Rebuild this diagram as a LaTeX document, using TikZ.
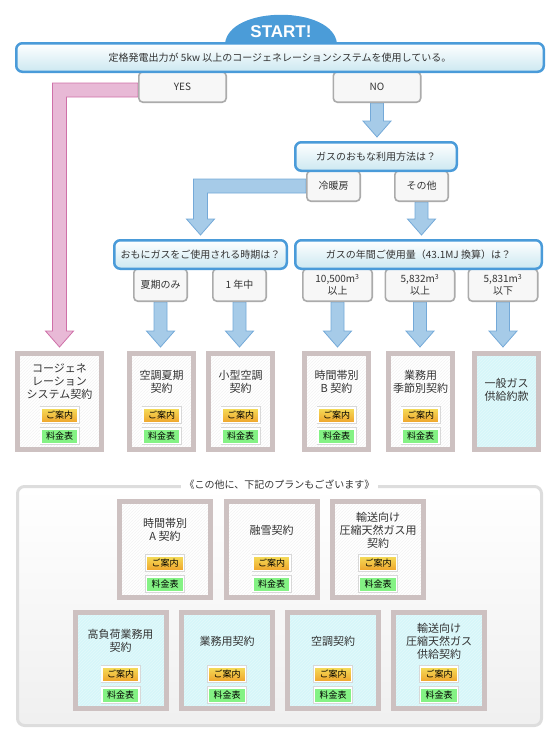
\documentclass[tikz,border=0pt]{standalone}
\usepackage{fontspec}
\setmainfont{Noto Sans CJK JP}
\newfontfamily\startfont{Liberation Sans}
\usepackage{tikz}
\usetikzlibrary{calc,positioning,patterns,backgrounds}
\definecolor{qblue}{HTML}{4A9BD9}
\definecolor{qcyan}{HTML}{CCE8F1}
\definecolor{domeblue}{HTML}{4B9CD8}
\definecolor{txtgray}{HTML}{333333}
\definecolor{tabgray}{HTML}{ABABAB}
\definecolor{tabfill}{HTML}{F7F7F7}
\definecolor{arblue}{HTML}{A6CBE8}
\definecolor{arblueln}{HTML}{74A9D8}
\definecolor{arpink}{HTML}{E8B9D6}
\definecolor{arpinkln}{HTML}{CF70A8}
\definecolor{planbd}{HTML}{CDC1C1}
\definecolor{plancyan}{HTML}{D6F6F9}
\definecolor{hatchgray}{HTML}{F3F3F3}
\definecolor{hatchcyan}{HTML}{E4F9FB}
\definecolor{panelbd}{HTML}{DDDDDD}
\definecolor{gdtop}{HTML}{F5DE5A}
\definecolor{gdbot}{HTML}{EFA52C}
\definecolor{prgreen}{HTML}{84F284}
\definecolor{btnbd}{HTML}{D8D8D8}
\newcommand{\dnarr}[3]{%
  \draw[#1] let \p1=(#2), \p2=(#3) in
    (\x1-6.5pt,\y1) -- (\x1+6.5pt,\y1) -- (\x1+6.5pt,\y2+20pt) -- (\x1+14pt,\y2+20pt)
    -- (\x1,\y2+4pt) -- (\x1-14pt,\y2+20pt) -- (\x1-6.5pt,\y2+20pt) -- cycle;}
\newcommand{\lfarr}[3]{%
  \draw[#1] let \p1=(#2), \p2=(#3) in
    (\x1,\y1+7pt) -- (\x2-7pt,\y1+7pt) -- (\x2-7pt,\y2+20pt) -- (\x2-14pt,\y2+20pt)
    -- (\x2,\y2+4pt) -- (\x2+14pt,\y2+20pt) -- (\x2+7pt,\y2+20pt) -- (\x2+7pt,\y1-7pt)
    -- (\x1,\y1-7pt) -- cycle;}
\newcommand{\planbox}[5]{%
  \node[#3, minimum width=#4] (#1) at (#2) {};
  \node[plantxt] (#1-t) at ($(#1.north)+(0,31)$) {#5};
  \node[gdsty] (#1-a) at ($(#1.south)+(0,-37)$) {ご案内};
  \node[prsty] (#1-b) at ($(#1.south)+(0,-16)$) {料金表};
}
\tikzset{
    startsty/.style={text=white, font=\startfont\bfseries\fontsize{17}{17}\selectfont, anchor=base, inner sep=0pt},
    qsty/.style={draw=qblue, line width=2.5pt, rounded corners=6pt, top color=white, bottom color=qcyan, minimum height=28.5pt, inner sep=0pt, text=txtgray, font=\fontsize{10}{12}\selectfont},
    tabsty/.style={draw=tabgray, line width=1.6pt, rounded corners=4pt, fill=tabfill, minimum height=30.4pt, inner sep=0pt, text=txtgray, align=center, font=\fontsize{10}{12}\selectfont},
    blarrsty/.style={fill=arblue, draw=arblueln, line width=0.8pt},
    pkarrsty/.style={fill=arpink, draw=arpinkln, line width=0.8pt},
    plansty/.style={draw=planbd, line width=5pt, minimum height=96pt, inner sep=0pt, preaction={fill=white}, pattern=north east lines, pattern color=hatchgray},
    cplansty/.style={plansty, preaction={fill=plancyan}, pattern color=hatchcyan},
    plantxt/.style={align=center, inner sep=0pt, text=txtgray, font=\fontsize{11}{13}\selectfont},
    btnsty/.style={draw=white, line width=1.5pt, preaction={draw=btnbd, line width=3pt}, minimum width=37pt, minimum height=14.5pt, inner sep=0pt, text=black, font=\fontsize{9}{10}\selectfont},
    gdsty/.style={btnsty, top color=gdtop, bottom color=gdbot},
    prsty/.style={btnsty, fill=prgreen},
    panelsty/.style={draw=panelbd, line width=3pt, rounded corners=7pt, top color=white, bottom color=gray!12, minimum width=524pt, minimum height=239pt},
    ptitlesty/.style={fill=white, inner xsep=4pt, inner ysep=1pt, text=txtgray, font=\fontsize{10}{12}\selectfont},
}

\begin{document}
\begin{tikzpicture}[x=1pt, y=-1pt]
\useasboundingbox (0,0) rectangle (560,740);

\fill[domeblue] (225,44) .. controls (228,5) and (334,5) .. (337,44) -- cycle;
\node[startsty] (start) at (281,37) {START!};

\node[tabsty, minimum width=87.4pt] (yes) at (182.5,87) {YES};
\node[tabsty, minimum width=87.4pt] (no) at (377,87) {NO};
\node[tabsty, minimum width=53.4pt] (cool) at (333.5,186) {冷暖房};
\node[tabsty, minimum width=53.4pt] (other) at (421.5,186) {その他};
\node[tabsty, minimum width=53.4pt, minimum height=32.4pt] (summer) at (160.5,285) {夏期のみ};
\node[tabsty, minimum width=53.4pt, minimum height=32.4pt] (allyear) at (239.5,285) {1 年中};
\node[tabsty, minimum width=69.4pt, minimum height=32.4pt] (vol1) at (337.5,285) {10,500m\textsuperscript{3}\\以上};
\node[tabsty, minimum width=69.4pt, minimum height=32.4pt] (vol2) at (420,285) {5,832m\textsuperscript{3}\\以上};
\node[tabsty, minimum width=69.4pt, minimum height=32.4pt] (vol3) at (503,285) {5,831m\textsuperscript{3}\\以下};

\node[qsty, minimum width=527.5pt] (q1) at (280,57.5) {定格発電出力が 5kw 以上のコージェネレーションシステムを使用している。};
\node[qsty, minimum width=161.5pt] (q2) at (376,156.5) {ガスのおもな利用方法は？};
\node[qsty, minimum width=172.5pt] (q3) at (200.5,254.5) {おもにガスをご使用される時期は？};
\node[qsty, minimum width=246.5pt] (q4) at (418.5,254.5) {ガスの年間ご使用量（43.1MJ 換算）は？};

\planbox{cogen}{59.5,401.5}{plansty}{84pt}{コージェネ\\レーション\\システム契約}
\planbox{summerc}{161.5,401.5}{plansty}{64pt}{空調夏期\\契約}
\planbox{small}{240.5,401.5}{plansty}{64pt}{小型空調\\契約}
\planbox{timeb}{336.5,401.5}{plansty}{64pt}{時間帯別\\B 契約}
\planbox{season}{420.5,401.5}{plansty}{64pt}{業務用\\季節別契約}
\node[cplansty, minimum width=64pt] (general) at (506.5,401.5) {};
\node[plantxt] (general-t) at ($(general.north)+(0,39)$) {一般ガス\\供給約款};

\node[panelsty] (panel) at (279.5,606) {};
\node[ptitlesty] (ptitle) at (panel.north) {《この他に、下記のプランもございます》};

\planbox{timea}{165,549.5}{plansty}{91pt}{時間帯別\\A 契約}
\planbox{snow}{271.5,549.5}{plansty}{91pt}{融雪契約}
\planbox{cngu}{378,549.5}{plansty}{91pt}{輸送向け\\圧縮天然ガス用\\契約}
\planbox{highload}{120.5,660.5}{cplansty}{91pt}{高負荷業務用\\契約}
\planbox{business}{227,660.5}{cplansty}{91pt}{業務用契約}
\planbox{aircon}{333,660.5}{cplansty}{91pt}{空調契約}
\planbox{cngs}{439,660.5}{cplansty}{91pt}{輸送向け\\圧縮天然ガス\\供給契約}

\begin{scope}[on background layer]
\lfarr{pkarrsty}{$(yes.west)+(0,3)$}{cogen.north}
\dnarr{blarrsty}{no.south}{q2.north}
\lfarr{blarrsty}{cool.west}{q3.north}
\dnarr{blarrsty}{other.south}{q4.north}
\dnarr{blarrsty}{summer.south}{summerc.north}
\dnarr{blarrsty}{allyear.south}{small.north}
\dnarr{blarrsty}{vol1.south}{timeb.north}
\dnarr{blarrsty}{vol2.south}{season.north}
\dnarr{blarrsty}{vol3.south}{general.north}
\end{scope}
\end{tikzpicture}
\end{document}
